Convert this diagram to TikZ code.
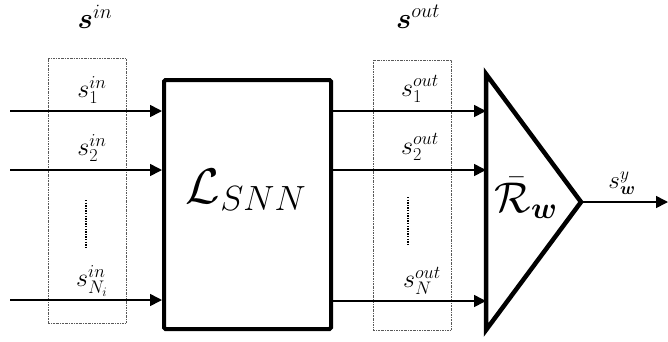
\RequirePackage{fix-cm}
\documentclass[tikz,border=0pt]{standalone}
\usepackage{amsmath,amssymb,bm}
\usetikzlibrary{arrows.meta, positioning, calc}

\begin{document}
\begin{tikzpicture}[
    x=1pt, y=-1pt,
    block/.style={rectangle, draw, line width=4pt, rounded corners=1.5pt,
                  minimum width=167pt, minimum height=249pt, inner sep=0pt},
    group/.style={rectangle, draw=gray!70!black, line width=0.6pt,
                  dash pattern=on 2pt off 1pt on 0.6pt off 1pt,
                  minimum width=78pt, inner sep=0pt},
    arr/.style={-{Triangle[length=12pt, width=12pt]}, line width=1.6pt},
    port/.style={font=\fontsize{26}{30}\selectfont, inner sep=0pt},
    head/.style={font=\fontsize{29}{34}\selectfont, inner sep=0pt},
    vdots/.style={line width=2.6pt, dash pattern=on 1.3pt off 1.3pt},
]
    \useasboundingbox (0,0) rectangle (668,341);

    % dotted groups and headings
    \node[group, minimum height=265pt] (gin) at (87,190.5) {};
    \node[group, minimum height=270pt] (gout) at (412,195) {};
    \node[head] (hin) at (95,17) {$\bm{s}^{in}$};
    \node[head] (hout) at (418,17) {$\bm{s}^{out}$};

    % network block and readout
    \node[block] (lsnn) at (247.5,204.5) {};
    \node[font=\fontsize{50}{60}\selectfont] (lname) at (246,190) {$\mathcal{L}_{SNN}$};
    \coordinate (ttop) at (486,74);
    \coordinate (apex) at (581,202);
    \coordinate (tbot) at (486,330);
    \draw[line width=4.5pt, line join=miter] (ttop) -- (apex) -- (tbot) -- cycle;
    \node[font=\fontsize{43}{50}\selectfont] (rname) at (526,198) {$\bar{\mathcal{R}}_{\bm{w}}$};

    % inputs
    \foreach \k/\y in {1/111, 2/170, 3/300} {
        \coordinate (in\k) at (10,\y);
        \draw[arr] (in\k) -- (in\k -| lsnn.west);
    }
    \node[port] (lin1) at (92,90) {$s_1^{in}$};
    \node[port] (lin2) at (92,148) {$s_2^{in}$};
    \node[port] (lin3) at (92,281) {$s_{N_i}^{in}$};
    \draw[vdots] (86,200) -- (86,248);

    % outputs
    \foreach \k/\y in {1/111, 2/170, 3/301} {
        \coordinate (out\k) at (486,\y);
        \draw[arr] (out\k -| lsnn.east) -- (out\k);
    }
    \node[port] (lout1) at (420,89) {$s_1^{out}$};
    \node[port] (lout2) at (420,147) {$s_2^{out}$};
    \node[port] (lout3) at (422,281) {$s_N^{out}$};
    \draw[vdots] (408,197) -- (408,245);

    % readout
    \coordinate (yend) at (668,202);
    \draw[arr] (apex) -- (yend);
    \node[port, font=\fontsize{25}{29}\selectfont] (ly) at (622,183) {$s_{\bm{w}}^{y}$};
\end{tikzpicture}
\end{document}
